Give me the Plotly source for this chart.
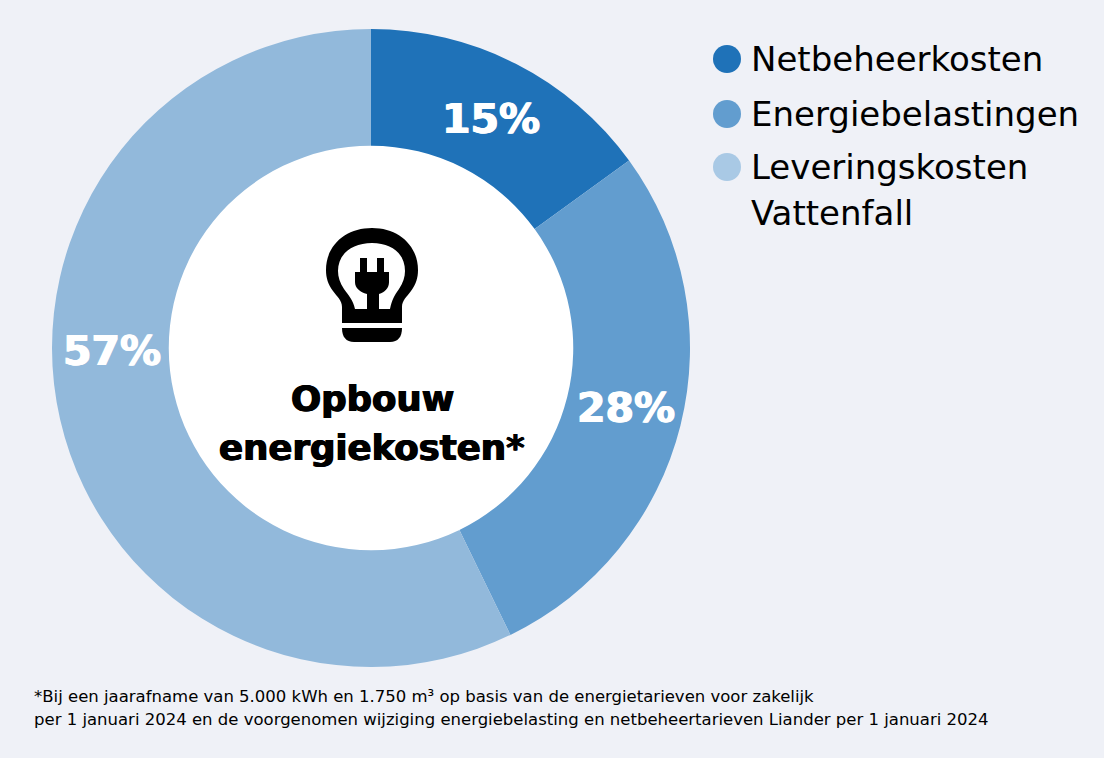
import plotly.graph_objects as go

W, H = 1104, 758

# Data
categories = ['Netbeheerkosten', 'Energiebelastingen', 'Leveringskosten<br>Vattenfall']
values = [15, 27.8, 57.2]
slice_colors = ['#1f72b8', '#629dcf', '#92b9db']
legend_colors = ['#1f72b8', '#629dcf', '#a9c9e5']
center_lines = ['Opbouw', 'energiekosten*']
footnote = ['*Bij een jaarafname van 5.000 kWh en 1.750 m³ op basis van de energietarieven voor zakelijk',
            'per 1 januari 2024 en de voorgenomen wijziging energiebelasting en netbeheertarieven Liander per 1 januari 2024']

FONT = 'DejaVu Sans'


def px(x):
    return x / W


def py(y):
    return 1 - y / H


def path(cmds):
    # pixel commands -> paper coordinates
    out = []
    for c in cmds:
        if c == 'Z':
            out.append('Z')
        else:
            pts = ' '.join(f'{px(x):.5f},{py(y):.5f}' for x, y in c[1:])
            out.append(c[0] + pts)
    return ' '.join(out)


fig = go.Figure(go.Pie(
    labels=categories,
    values=values,
    hole=0.634,
    sort=False,
    direction='clockwise',
    rotation=0,
    marker=dict(colors=slice_colors, line=dict(width=0)),
    textinfo='none',
    showlegend=False,
    domain=dict(x=[px(52), px(690)], y=[py(667), py(29)]),
))

annotations = []
shapes = []


def text(x, y, s, size, color='#000000', bold=False, anchor='left'):
    font = dict(family=FONT, size=size, color=color, weight=700 if bold else 400)
    if bold:
        # dikker dan DejaVu Bold, zoals het origineel
        font['shadow'] = f'0.7px 0 0 {color}, -0.7px 0 0 {color}'
    annotations.append(dict(
        x=px(x), y=py(y), xref='paper', yref='paper', text=s, showarrow=False,
        xanchor=anchor, yanchor='middle', align='left', font=font,
    ))


# procentlabels
label_pos = [(491, 119), (626, 408), (112, 351)]
for v, (x, y) in zip(values, label_pos):
    text(x, y, f'{v:.0f}%', 41, '#ffffff', True, 'center')

# legenda
legend_y = [59, 114, 167]
for name, color, y in zip(categories, legend_colors, legend_y):
    shapes.append(dict(type='circle', xref='paper', yref='paper', x0=px(713), x1=px(741),
                       y0=py(y + 14), y1=py(y - 14), fillcolor=color, line=dict(width=0)))
    first, *rest = name.split('<br>')
    text(749, y, first, 34)
    for line in rest:
        text(749, y + 46, line, 34)

# midden
text(372, 398, center_lines[0], 35.5, bold=True, anchor='center')
text(372, 447, center_lines[1], 35.5, bold=True, anchor='center')

# voetnoot
text(32, 696, footnote[0], 16.5)
text(32, 719, footnote[1], 16.5)

# lamp icoon
bulb = path([
    ('M', (342, 323)), ('L', (342, 307)),
    ('C', (342, 300), (337, 297), (333, 291)),
    ('C', (328, 284), (326, 278), (326, 270)),
    ('C', (326, 245), (346, 228), (372, 228)),
    ('C', (398, 228), (418, 245), (418, 270)),
    ('C', (418, 278), (416, 284), (411, 291)),
    ('C', (407, 297), (402, 300), (402, 307)),
    ('L', (402, 323)), 'Z',
    ('M', (355, 309)),
    ('C', (353, 300), (349, 296), (344, 289)),
    ('C', (340, 283), (338, 277), (338, 271)),
    ('C', (338, 254), (352, 243), (372, 243)),
    ('C', (392, 243), (405, 254), (405, 271)),
    ('C', (405, 277), (403, 283), (399, 289)),
    ('C', (394, 296), (392, 300), (390, 309)),
    ('L', (379, 309)), ('L', (379, 294)),
    ('C', (385, 292), (389, 288), (389, 282)),
    ('L', (389, 272)), ('L', (384, 272)), ('L', (384, 258)), ('L', (377, 258)), ('L', (377, 272)),
    ('L', (367, 272)), ('L', (367, 258)), ('L', (360, 258)), ('L', (360, 272)),
    ('L', (355, 272)), ('L', (355, 282)),
    ('C', (355, 288), (360, 292), (367, 294)),
    ('L', (367, 309)), 'Z',
])
base = path([
    ('M', (342, 328)), ('L', (402, 328)),
    ('C', (402, 337), (398, 342), (390, 342)),
    ('L', (354, 342)),
    ('C', (346, 342), (342, 337), (342, 328)), 'Z',
])
for p in (bulb, base):
    shapes.append(dict(type='path', xref='paper', yref='paper', path=p, fillcolor='#000000', line=dict(width=0)))

# wit midden onder het icoon is de achtergrond van het gat
shapes.insert(0, dict(type='circle', xref='paper', yref='paper', layer='below',
                      x0=px(165), x1=px(577), y0=py(554), y1=py(142),
                      fillcolor='#ffffff', line=dict(width=0)))

fig.update_layout(
    width=W, height=H,
    margin=dict(l=0, r=0, t=0, b=0),
    paper_bgcolor='#eff1f7',
    plot_bgcolor='#eff1f7',
    annotations=annotations,
    shapes=shapes,
)

# geen witte paginamarge rond de figuur
fig.write_html('out.html', config=dict(displayModeBar=False),
               post_script="document.body.style.margin='0';document.body.style.background='#eff1f7';")
